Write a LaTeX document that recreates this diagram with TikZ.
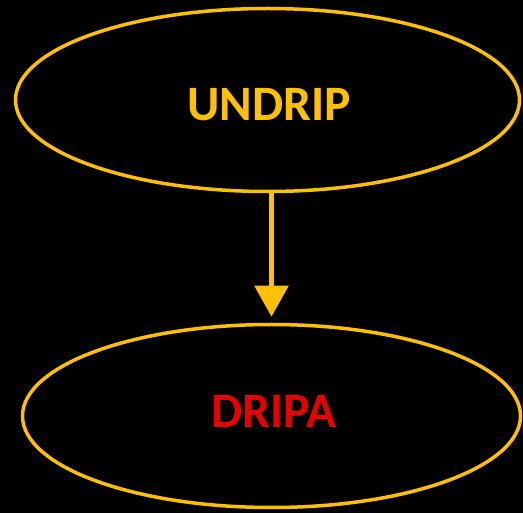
\documentclass[tikz,border=0pt]{standalone}
\usepackage{fontspec}
\setmainfont{Carlito}
\usetikzlibrary{shapes.geometric,arrows.meta}
\definecolor{gold}{HTML}{FFC000}
\definecolor{redtext}{HTML}{E60000}
\begin{document}
\begin{tikzpicture}[x=1pt,y=-1pt,
  oval/.style={ellipse, draw=gold, line width=3.5pt, inner sep=0pt},
  caption/.style={inner sep=0pt, font=\fontsize{49.5}{54}\selectfont\bfseries},
  link/.style={draw=gold, line width=5.5pt,
    -{Triangle[width=33pt,length=31pt]}, shorten >=6pt}]
  \fill[black] (0,0) rectangle (523,513);
  \useasboundingbox (0,0) rectangle (523,513);
  \node[oval, minimum width=504pt, minimum height=183pt] (top) at (267.5,100) {};
  \node[oval, minimum width=498pt, minimum height=183pt] (bot) at (271.5,416) {};
  \node[caption, text=gold] (toplabel) at (269,105) {UNDRIP};
  \node[caption, text=redtext] (botlabel) at (274,411) {DRIPA};
  \draw[link] (bot.north |- top.south) -- (bot.north);
\end{tikzpicture}
\end{document}
